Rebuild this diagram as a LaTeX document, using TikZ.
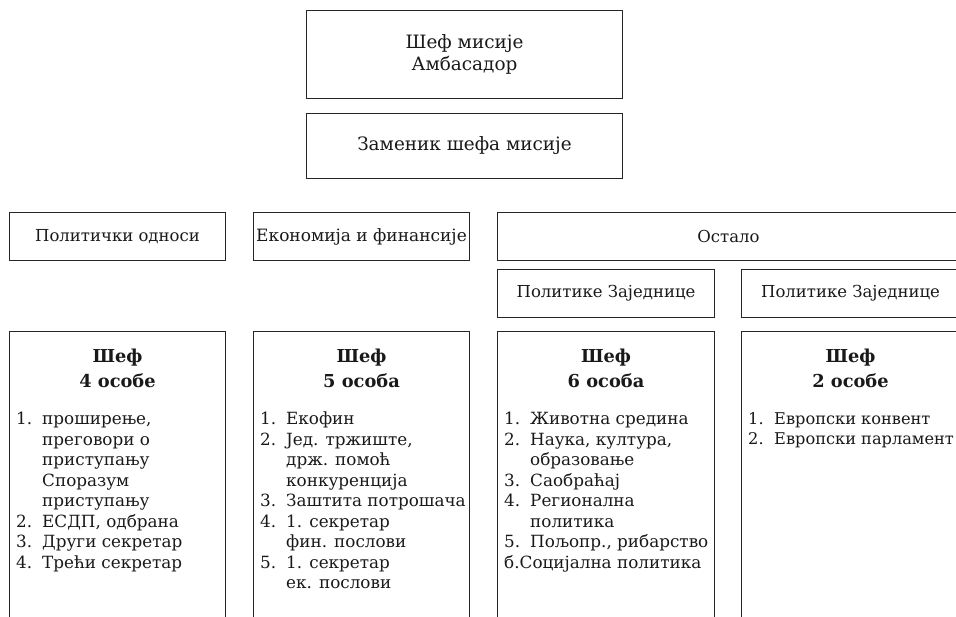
\documentclass[tikz,border=0pt]{standalone}
\usepackage{fontspec}
\setmainfont{DejaVu Serif}
\usetikzlibrary{positioning}
\newcommand\itemline[2]{\makebox[26pt][l]{#1}#2}
\newcommand\contline[1]{\hspace*{26pt}#1}
\begin{document}
\begin{tikzpicture}[
		x=1pt, y=-1pt,
		box/.style = {draw=black!85, line width=1pt, anchor=north west, inner sep=0pt, align=center, text=black!90, font=\fontsize{16.5}{22}\selectfont},
		top/.style = {box, font=\fontsize{18.4}{22}\selectfont},
		head/.style = {anchor=north, inner sep=0pt, align=center, text=black!90, font=\bfseries\fontsize{17.8}{25}\selectfont},
		list/.style = {anchor=north west, inner sep=0pt, align=left, text=black!90, font=\fontsize{16.8}{20.5}\selectfont},
	]
	\useasboundingbox (0,0) rectangle (956,616);
	\clip (0,0) rectangle (956,616);
	% top of the mission
	\node[top, minimum width=316, minimum height=88] (chief) at (306,10) {Шеф мисије\\Амбасадор};
	\node[top, minimum width=316, minimum height=65] (deputy) at (306,113) {Заменик шефа мисије};
	% sections
	\node[box, minimum width=216, minimum height=48] (pol) at (9,212) {Политички односи};
	\node[box, minimum width=216, minimum height=48, font=\fontsize{17}{22}\selectfont] (eco) at (253,212) {Економија и финансије};
	\node[box, minimum width=462, minimum height=48] (other) at (497,212) {Остало};
	\node[box, minimum width=217, minimum height=48] (comA) at (497,269) {Политике Заједнице};
	\node[box, minimum width=218, minimum height=48] (comB) at (741,269) {Политике Заједнице};
	% staff columns
	\node[box, minimum width=216, minimum height=320] (polstaff) at (9,331) {};
	\node[box, minimum width=216, minimum height=320] (ecostaff) at (253,331) {};
	\node[box, minimum width=217, minimum height=320] (comAstaff) at (497,331) {};
	\node[box, minimum width=218, minimum height=320] (comBstaff) at (741,331) {};
	\node[head, below=18pt of polstaff.north] (polhead) {Шеф\\4 особе};
	\node[head, below=18pt of ecostaff.north] (ecohead) {Шеф\\5 особа};
	\node[head, below=18pt of comAstaff.north] (comAhead) {Шеф\\6 особа};
	\node[head, below=18pt of comBstaff.north] (comBhead) {Шеф\\2 особе};
	\node[list, below right=81pt and 7pt of polstaff.north west] (pollist) {%
		\itemline{1.}{проширење,}\\
		\contline{преговори о}\\
		\contline{приступању}\\
		\contline{Споразум}\\
		\contline{приступању}\\
		\itemline{2.}{ЕСДП, одбрана}\\
		\itemline{3.}{Други секретар}\\
		\itemline{4.}{Трећи секретар}};
	\node[list, below right=81pt and 7pt of ecostaff.north west] (ecolist) {%
		\itemline{1.}{Екофин}\\
		\itemline{2.}{Јед. тржиште,}\\
		\contline{држ. помоћ}\\
		\contline{конкуренција}\\
		\itemline{3.}{Заштита потрошача}\\
		\itemline{4.}{1. секретар}\\
		\contline{фин. послови}\\
		\itemline{5.}{1. секретар}\\
		\contline{ек. послови}};
	\node[list, below right=81pt and 7pt of comAstaff.north west] (comAlist) {%
		\itemline{1.}{Животна средина}\\
		\itemline{2.}{Наука, култура,}\\
		\contline{образовање}\\
		\itemline{3.}{Саобраћај}\\
		\itemline{4.}{Регионална}\\
		\contline{политика}\\
		\itemline{5.}{Пољопр., рибарство}\\
		б.Социјална политика};
	\node[list, font=\fontsize{16.2}{20.5}\selectfont, below right=81pt and 7pt of comBstaff.north west] (comBlist) {%
		\itemline{1.}{Европски конвент}\\
		\itemline{2.}{Европски парламент}};
\end{tikzpicture}
\end{document}
